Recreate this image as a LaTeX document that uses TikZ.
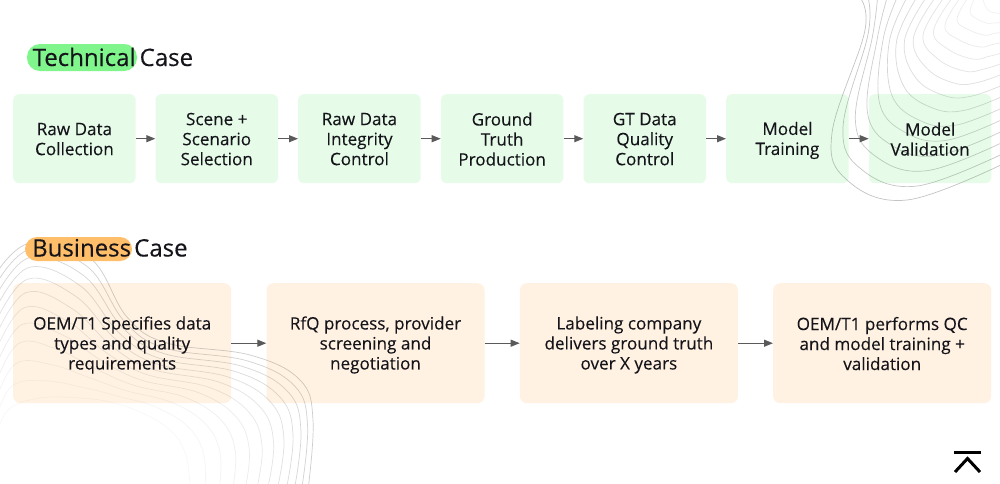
\documentclass[tikz,border=0pt]{standalone}
\usepackage{fontspec}
\setmainfont[FakeBold=0.18]{Open Sans}
\usetikzlibrary{arrows.meta}
\definecolor{gbox}{HTML}{E6FCE8}
\definecolor{obox}{HTML}{FFF2E2}
\definecolor{gpill}{HTML}{7FF58C}
\definecolor{opill}{HTML}{FFBE69}
\definecolor{ink}{HTML}{14141A}
\definecolor{arr}{HTML}{5A5A5A}
\newcommand\qb[3]{{(1-\t)*(1-\t)*(#1)+2*\t*(1-\t)*(#2)+\t*\t*(#3)}}
\tikzset{
  x=1pt,y=-1pt,
  gb/.style={fill=gbox,rounded corners=6pt,minimum width=122.5pt,minimum height=89pt,inner sep=0pt,anchor=north west},
  ob/.style={fill=obox,rounded corners=7pt,minimum width=218pt,minimum height=120pt,inner sep=0pt,anchor=north west},
  txt/.style={text=ink,align=center,font=\fontsize{17.1}{20}\selectfont,inner sep=0pt,yshift=-1.8pt,
    execute at begin node={\rule{0pt}{19pt}},execute at end node={\rule[-3pt]{0pt}{3pt}}},
  head/.style={text=ink,font=\fontsize{24}{26}\selectfont,inner sep=0pt,anchor=base west},
  flow/.style={draw=arr,line width=1.1pt,-{Triangle[length=9pt,width=7pt]}},
  contour/.style={draw=black!70,line width=.7pt},
  logo/.style={draw=black,line width=3pt}
}
\begin{document}
\begin{tikzpicture}
\useasboundingbox (0,0) rectangle (1000,483);
\clip (0,0) rectangle (1000,483);
\fill[white] (0,0) rectangle (1000,483);
% boxes
\node[gb] (a1) at (13,94) {};
\node[gb] (a2) at (155.3,94) {};
\node[gb] (a3) at (298,94) {};
\node[gb] (a4) at (440.7,94) {};
\node[gb] (a5) at (583.3,94) {};
\node[gb] (a6) at (726,94) {};
\node[gb] (a7) at (868.7,94) {};
\node[ob] (b1) at (13,283) {};
\node[ob] (b2) at (266.3,283) {};
\node[ob] (b3) at (519.7,283) {};
\node[ob] (b4) at (773,283) {};
% contours, top right
\foreach \i in {0,...,14}{
  \pgfmathsetmacro\t{pow(\i/14,1.1)}
  \pgfmathsetmacro\op{0.26*pow(1-\t,1.2)+0.07}
  \draw[contour,opacity=\op] plot[smooth,tension=.65] coordinates {
   (\qb{858}{943.5}{983},-5)
   (\qb{865}{892.5}{984},\qb{30}{62.5}{3})
   (\qb{832}{932.5}{987},\qb{133}{76.5}{9})
   (\qb{847}{981.5}{991},\qb{180}{84.5}{12})
   (\qb{907}{998}{996},\qb{200}{73}{13})
   (1005,\qb{163}{69.5}{14})};
}
% contours, bottom left
\foreach \i in {0,...,11}{
  \pgfmathsetmacro\t{\i/11}
  \pgfmathsetmacro\op{0.24*pow(1-\t,1.3)+0.04}
  \draw[contour,opacity=\op] plot[smooth,tension=.65] coordinates {
   (-5,\qb{275}{332.5}{440})
   (\qb{30}{31}{8},\qb{243}{273.5}{410})
   (\qb{90}{75}{40},\qb{258}{302}{398})
   (\qb{127}{116.5}{80},\qb{317}{342.5}{398})
   (\qb{167}{161.5}{110},\qb{343}{371.5}{402})
   (\qb{250}{235}{140},\qb{355}{386.5}{412})
   (\qb{300}{275}{170},\qb{380}{415}{430})
   (\qb{313}{286.5}{186},\qb{420}{452.5}{455})
   (\qb{308}{275}{190},490)};
}
% headings
\fill[gpill,rounded corners=13pt] (27,44) rectangle (137,71);
\fill[opill,rounded corners=12pt] (25,237) rectangle (132,261);
\node[head] (h1) at (32.5,66) {Technical};
\node[head] (h2) at (139.5,66) {Case};
\node[head] (h3) at (32,256.5) {Business};
\node[head] (h4) at (134,256.5) {Case};
% box text
\node[txt] (ta1) at (a1) {Raw Data\\Collection};
\node[txt] (ta2) at (a2) {Scene +\\Scenario\\Selection};
\node[txt] (ta3) at (a3) {Raw Data\\Integrity\\Control};
\node[txt] (ta4) at (a4) {Ground\\Truth\\Production};
\node[txt] (ta5) at (a5) {GT Data\\Quality\\Control};
\node[txt] (ta6) at (a6) {Model\\Training};
\node[txt] (ta7) at (a7) {Model\\Validation};
\node[txt] (tb1) at (b1) {OEM/T1 Specifies data\\types and quality\\requirements};
\node[txt] (tb2) at (b2) {RfQ process, provider\\screening and\\negotiation};
\node[txt] (tb3) at (b3) {Labeling company\\delivers ground truth\\over X years};
\node[txt] (tb4) at (b4) {OEM/T1 performs QC\\and model training +\\validation};
% arrows
\draw[flow] (a1) -- (a2);
\draw[flow] (a2) -- (a3);
\draw[flow] (a3) -- (a4);
\draw[flow] (a4) -- (a5);
\draw[flow] (a5) -- (a6);
\draw[flow] (a6) -- (a7);
\draw[flow] (b1) -- (b2);
\draw[flow] (b2) -- (b3);
\draw[flow] (b3) -- (b4);
% logo
\coordinate (l1) at (954,452);
\coordinate (l2) at (981,452);
\coordinate (l3) at (955,472);
\coordinate (l4) at (967.5,458.5);
\coordinate (l5) at (980,472);
\draw[logo] (l1) -- (l2);
\draw[logo,miter limit=3] (l3) -- (l4) -- (l5);
\end{tikzpicture}
\end{document}
